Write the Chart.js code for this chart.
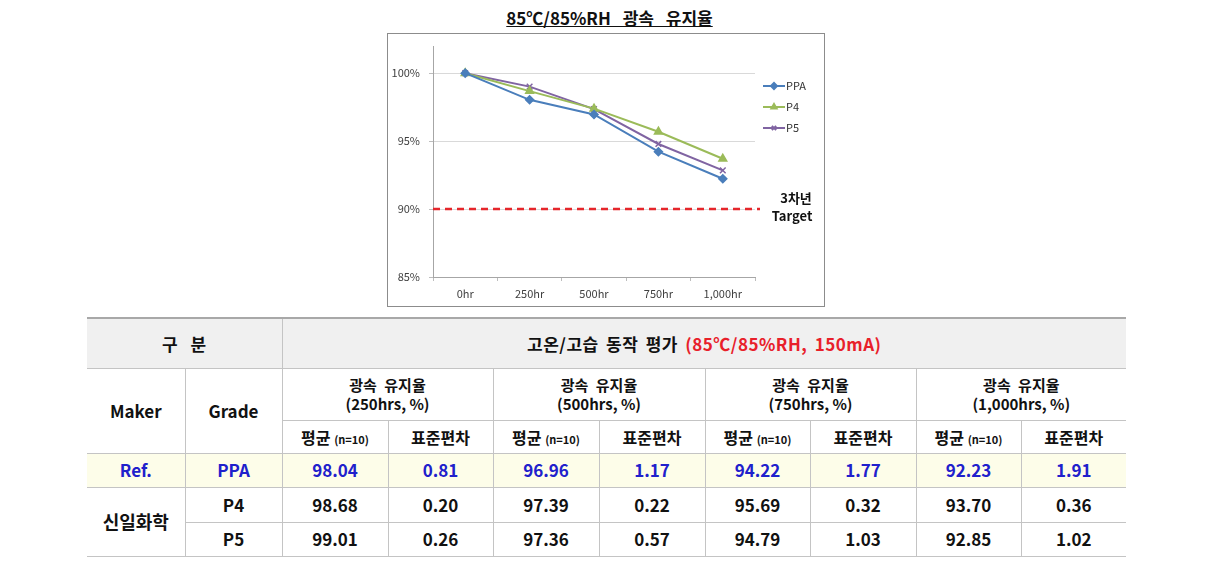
<!DOCTYPE html>
<html>
<head>
<meta charset="utf-8">
<script src="https://cdn.jsdelivr.net/npm/chart.js@4.4.1/dist/chart.umd.min.js"></script>
<style>
  body { margin: 0; background: #fff; font-family: "Noto Sans CJK KR", "Noto Sans", sans-serif; }
  #title { position: absolute; left: 0; width: 1219px; top: 5px; text-align: center; font-size: 17px; font-weight: bold; color: #111; }
  #title span { text-decoration: underline; word-spacing: 8px; }
  #box { position: absolute; left: 387px; top: 33px; width: 436px; height: 272px; border: 1px solid #8c8c8c; background: #fff; }
  #box canvas { position: absolute; left: 0; top: 0; }
  table { position: absolute; left: 87px; top: 317px; width: 1039px; border-collapse: collapse; table-layout: fixed; color: #111; font-weight: bold; }
  td { border: 1px solid #c4c4c4; text-align: center; padding: 0; font-size: 17px; line-height: 1.25; }
  tr td:first-child { border-left: none; }
  tr td:last-child { border-right: none; }
  tr.top td { border-top: 2px solid #a8a8a8; background: #f0f0f0; font-size: 17px; letter-spacing: 0.5px; word-spacing: 3px; }
  tr.ref td { background: #fdfde9; color: #2020cc; }
  .red { color: #e8202a; }
  .sm { font-size: 11px; }
  .num { font-size: 17px; }
  .h2 { font-size: 15px; word-spacing: 4px; line-height: 1.3; }
  .h3 { font-size: 16px; }
</style>
</head>
<body>
<div id="title"><span>85℃/85%RH 광속 유지율</span></div>
<div id="box"><canvas id="lumenChart" width="436" height="272"></canvas></div>
<table id="tbl"></table>
<script>
const hours = ['0hr', '250hr', '500hr', '750hr', '1,000hr'];
const ppa = [100, 98.04, 96.96, 94.22, 92.23];
const p4 = [100, 98.68, 97.39, 95.69, 93.70];
const p5 = [100, 99.01, 97.36, 94.79, 92.85];
const yTicks = [85, 90, 95, 100];
const target = 90;
const targetLabel = ['3차년', 'Target'];

// table values: [maker, grade, mean250, sd250, mean500, sd500, mean750, sd750, mean1000, sd1000]
const tableHours = ['250hrs', '500hrs', '750hrs', '1,000hrs'];
const refRow = ['Ref.', 'PPA', '98.04', '0.81', '96.96', '1.17', '94.22', '1.77', '92.23', '1.91'];
const p4Row = ['P4', '98.68', '0.20', '97.39', '0.22', '95.69', '0.32', '93.70', '0.36'];
const p5Row = ['P5', '99.01', '0.26', '97.36', '0.57', '94.79', '1.03', '92.85', '1.02'];

const tickFont = { family: '"Noto Sans CJK KR", "Noto Sans", sans-serif', size: 11 };

// legend + target line drawn around datasets
const extras = {
  id: 'extras',
  beforeDatasetsDraw(chart) {
    const { ctx, chartArea, scales } = chart;
    const y = scales.y.getPixelForValue(target);
    ctx.save();
    ctx.strokeStyle = '#e5262b';
    ctx.lineWidth = 2.5;
    ctx.setLineDash([7, 5]);
    ctx.beginPath();
    ctx.moveTo(chartArea.left, y);
    ctx.lineTo(chartArea.right + 5, y);
    ctx.stroke();
    ctx.restore();
  },
  afterDraw(chart) {
    const { ctx } = chart;
    ctx.save();
    ctx.font = '11px "Noto Sans CJK KR", "Noto Sans", sans-serif';
    ctx.textBaseline = 'middle';
    chart.data.datasets.forEach((ds, i) => {
      const ly = 52 + i * 21;
      ctx.strokeStyle = ds.borderColor;
      ctx.fillStyle = ds.borderColor;
      ctx.lineWidth = 2;
      ctx.beginPath();
      ctx.moveTo(375, ly);
      ctx.lineTo(397, ly);
      ctx.stroke();
      Chart.helpers.drawPoint(ctx, {
        pointStyle: ds.pointStyle, radius: 3, borderWidth: 1.5
      }, 386, ly);
      ctx.fillStyle = '#333';
      ctx.fillText(ds.label, 398, ly);
    });
    const y = chart.scales.y.getPixelForValue(target);
    ctx.font = 'bold 13px "Noto Sans CJK KR", "Noto Sans", sans-serif';
    ctx.fillStyle = '#111';
    ctx.textAlign = 'center';
    ctx.fillText(targetLabel[0], 408, y - 11);
    ctx.fillText(targetLabel[1], 404, y + 7);
    ctx.restore();
  }
};

function series(label, data, color, style, r) {
  return {
    label, data,
    borderColor: color, backgroundColor: color,
    pointBackgroundColor: color, pointBorderColor: color,
    borderWidth: 2, pointStyle: style, pointRadius: r, pointBorderWidth: 1.5,
    tension: 0
  };
}

new Chart(document.getElementById('lumenChart').getContext('2d'), {
  type: 'line',
  data: {
    labels: hours,
    datasets: [
      series('PPA', ppa, '#4a7ebb', 'rectRot', 4),
      series('P4', p4, '#9bbb59', 'triangle', 4.5),
      series('P5', p5, '#8064a2', 'crossRot', 4)
    ]
  },
  options: {
    responsive: false,
    animation: false,
    layout: { padding: { top: 12, right: 69, left: 0, bottom: 0 } },
    plugins: { legend: { display: false }, tooltip: { enabled: false } },
    scales: {
      x: {
        offset: true,
        afterFit: s => { s.height = 29; s.paddingLeft = 0; s.paddingRight = 0; },
        grid: { offset: true, drawOnChartArea: false, tickLength: 4, tickColor: '#bdbdbd' },
        border: { color: '#a6a6a6', width: 1 },
        ticks: { font: tickFont, color: '#404040', padding: 6, maxRotation: 0 }
      },
      y: {
        min: 85, max: 102,
        afterFit: s => { s.width = 45; s.paddingTop = 0; s.paddingBottom = 0; },
        afterBuildTicks: s => { s.ticks = yTicks.map(v => ({ value: v })); },
        grid: { color: '#d9d9d9', tickLength: 4, tickColor: '#bdbdbd' },
        border: { color: '#a6a6a6', width: 1 },
        ticks: { font: tickFont, color: '#404040', padding: 9, callback: v => v + '%' }
      }
    }
  },
  plugins: [extras]
});

// table
const colW = [98, 97, 106, 105, 106, 106, 105, 106, 105, 105];
let html = '<colgroup>' + colW.map(w => '<col style="width:' + w + 'px">').join('') + '</colgroup>';
html += '<tr class="top" style="height:50px"><td colspan="2" style="word-spacing:8px">구 분</td>' +
  '<td colspan="8">고온/고습 동작 평가 <span class="red">(85℃/85%RH, 150mA)</span></td></tr>';
html += '<tr style="height:52px"><td rowspan="2">Maker</td><td rowspan="2">Grade</td>' +
  tableHours.map(h => '<td colspan="2" class="h2">광속 유지율<br><span style="word-spacing:0">(' + h + ', %)</span></td>').join('') + '</tr>';
html += '<tr style="height:33px">' +
  tableHours.map(() => '<td class="h3">평균 <span class="sm">(n=10)</span></td><td class="h3">표준편차</td>').join('') + '</tr>';
html += '<tr class="ref" style="height:34px">' + refRow.map(v => '<td class="num">' + v + '</td>').join('') + '</tr>';
html += '<tr style="height:35px"><td rowspan="2" style="font-size:18px">신일화학</td>' + p4Row.map(v => '<td class="num">' + v + '</td>').join('') + '</tr>';
html += '<tr style="height:34px">' + p5Row.map(v => '<td class="num">' + v + '</td>').join('') + '</tr>';
document.getElementById('tbl').innerHTML = html;
</script>
</body>
</html>
